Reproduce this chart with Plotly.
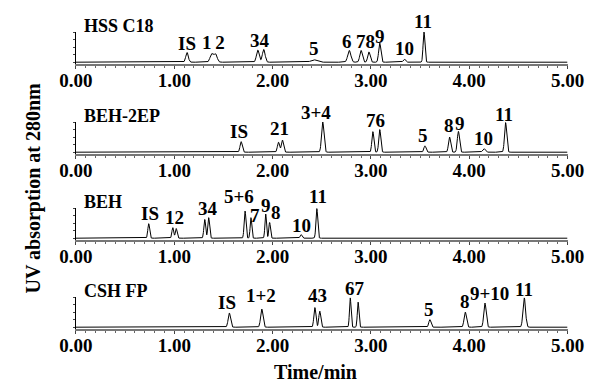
import numpy as np
import plotly.graph_objects as go

# ---------------- data ----------------
panel_names = ["HSS C18", "BEH-2EP", "BEH", "CSH FP"]

# retention time (min), relative height, peak width (sigma, min)
hss_t = [0.68, 1.13, 1.38, 1.42, 1.85, 1.91, 2.42, 2.78, 2.90, 2.98, 3.09, 3.34, 3.54]
hss_h = [0.02, 0.32, 0.27, 0.27, 0.40, 0.42, 0.08, 0.39, 0.39, 0.34, 0.63, 0.10, 1.00]
hss_w = [0.008, 0.013, 0.016, 0.016, 0.014, 0.014, 0.03, 0.016, 0.013, 0.012, 0.011, 0.012, 0.009]

beh2ep_t = [1.68, 2.06, 2.10, 2.51, 3.02, 3.09, 3.55, 3.80, 3.89, 4.15, 4.37, 4.64]
beh2ep_h = [0.35, 0.33, 0.40, 1.00, 0.68, 0.75, 0.21, 0.50, 0.69, 0.12, 0.98, 0.02]
beh2ep_w = [0.011, 0.011, 0.011, 0.012, 0.01, 0.01, 0.011, 0.011, 0.011, 0.013, 0.011, 0.02]

beh_t = [0.74, 0.985, 1.02, 1.31, 1.35, 1.72, 1.78, 1.93, 1.97, 2.29, 2.45]
beh_h = [0.48, 0.35, 0.32, 0.62, 0.68, 0.90, 0.68, 0.80, 0.52, 0.12, 0.98]
beh_w = [0.009, 0.009, 0.009, 0.009, 0.009, 0.009, 0.008, 0.008, 0.008, 0.01, 0.009]

csh_t = [1.56, 1.89, 2.43, 2.48, 2.79, 2.87, 3.60, 3.96, 4.16, 4.56]
csh_h = [0.47, 0.60, 0.65, 0.53, 0.97, 0.83, 0.25, 0.50, 0.80, 0.97]
csh_w = [0.012, 0.012, 0.01, 0.01, 0.008, 0.008, 0.011, 0.012, 0.012, 0.013]

# peak labels: text, x (min), y (relative height, label centre)
hss_lab = ["IS", "1\u20092", "34", "5", "6", "78", "9", "10", "11"]
hss_lx = [1.13, 1.40, 1.875, 2.42, 2.76, 2.95, 3.09, 3.34, 3.53]
hss_ly = [0.62, 0.64, 0.72, 0.46, 0.68, 0.68, 0.86, 0.46, 1.36]

beh2ep_lab = ["IS", "21", "3+4", "76", "5", "8", "9", "10", "11"]
beh2ep_lx = [1.66, 2.07, 2.44, 3.05, 3.53, 3.79, 3.91, 4.15, 4.35]
beh2ep_ly = [0.68, 0.79, 1.30, 1.06, 0.56, 0.87, 0.95, 0.45, 1.25]

beh_lab = ["IS", "12", "34", "5+6", "7", "9", "8", "10", "11"]
beh_lx = [0.75, 1.00, 1.34, 1.66, 1.82, 1.93, 2.03, 2.29, 2.46]
beh_ly = [0.82, 0.68, 1.00, 1.39, 0.75, 1.08, 0.85, 0.43, 1.38]

csh_lab = ["IS", "1+2", "43", "67", "5", "8", "9+10", "11"]
csh_lx = [1.54, 1.88, 2.46, 2.84, 3.59, 3.96, 4.21, 4.56]
csh_ly = [0.83, 1.05, 1.05, 1.27, 0.60, 0.85, 1.13, 1.25]

tick_vals = [0, 1, 2, 3, 4, 5]
tick_text = ["0.00", "1.00", "2.00", "3.00", "4.00", "5.00"]

x_title = "Time/min"
y_title = "UV absorption at 280nm"

peaks = [(hss_t, hss_h, hss_w), (beh2ep_t, beh2ep_h, beh2ep_w),
         (beh_t, beh_h, beh_w), (csh_t, csh_h, csh_w)]
labels = [(hss_lab, hss_lx, hss_ly), (beh2ep_lab, beh2ep_lx, beh2ep_ly),
          (beh_lab, beh_lx, beh_ly), (csh_lab, csh_lx, csh_ly)]

# ---------------- figure ----------------
W, H = 602, 383
OFF = 8  # page body margin shifts the figure by 8 px right and down
boxes = [(32, 64), (122, 154), (208, 240), (297, 329)]   # target panel (top, bottom) px
x0_px, x1_px = 62, 583
YR = [-0.06, 1.0]


def px_x(p):
    return (p - OFF) / W


def px_y(p):
    return 1 - (p - OFF) / H


tgrid = np.linspace(0, 5, 2501)

fig = go.Figure()
BOLD = dict(family="Liberation Serif", color="black", weight="bold")
annotations = []
layout = dict(width=W, height=H, margin=dict(l=0, r=0, t=0, b=0),
              plot_bgcolor="white", paper_bgcolor="white", showlegend=False)


def to_paper(dom, v):
    return dom[0] + (v - YR[0]) / (YR[1] - YR[0]) * (dom[1] - dom[0])


for i in range(4):
    t, h, w = peaks[i]
    y = np.zeros_like(tgrid)
    for ti, hi, wi in zip(t, h, w):
        y += hi * np.exp(-0.5 * ((tgrid - ti) / wi) ** 2)
    xa = "x" if i == 0 else f"x{i+1}"
    ya = "y" if i == 0 else f"y{i+1}"
    fig.add_trace(go.Scatter(x=tgrid, y=y, mode="lines", xaxis=xa, yaxis=ya,
                             line=dict(color="black", width=1)))
    top, bot = boxes[i]
    dom_y = [px_y(bot), px_y(top)]
    xk = "xaxis" if i == 0 else f"xaxis{i+1}"
    yk = "yaxis" if i == 0 else f"yaxis{i+1}"
    layout[xk] = dict(domain=[px_x(x0_px), px_x(x1_px)], range=[0, 5], anchor=ya,
                      showline=True, linecolor="#777", linewidth=2,
                      showgrid=False, zeroline=False,
                      tickmode="array", tickvals=tick_vals, ticktext=tick_text,
                      ticks="outside", ticklen=3, tickcolor="#444", tickwidth=1,
                      minor=dict(dtick=0.1, ticks="outside", ticklen=2, tickcolor="#666"),
                      ticklabelstandoff=-5,
                      tickfont=dict(size=19, **BOLD))
    layout[yk] = dict(domain=dom_y, range=YR, anchor=xa,
                      showline=True, linecolor="black", linewidth=1,
                      showgrid=False, zeroline=False, showticklabels=False,
                      ticks="outside", ticklen=2, tickcolor="#444",
                      tickmode="linear", tick0=0, dtick=0.25)
    annotations.append(dict(x=0.06, y=to_paper(dom_y, 1.2), xref=xa, yref="paper",
                            text=panel_names[i], showarrow=False,
                            xanchor="left", yanchor="middle",
                            font=dict(size=18, **BOLD)))
    lab, lx, ly = labels[i]
    for s, a, b in zip(lab, lx, ly):
        annotations.append(dict(x=a, y=to_paper(dom_y, b), xref=xa, yref="paper",
                                text=s, showarrow=False,
                                xanchor="center", yanchor="middle",
                                font=dict(size=19, **BOLD)))

annotations.append(dict(x=px_x(316), y=px_y(372), xref="paper", yref="paper",
                        text=x_title, showarrow=False, xanchor="center", yanchor="middle",
                        font=dict(size=20, **BOLD)))
annotations.append(dict(x=px_x(17), y=px_y(188), xref="paper", yref="paper",
                        text=y_title, showarrow=False, textangle=-90,
                        xanchor="center", yanchor="middle",
                        font=dict(size=20, **BOLD)))
layout["annotations"] = annotations
fig.update_layout(**layout)
fig.write_html("out.html")
